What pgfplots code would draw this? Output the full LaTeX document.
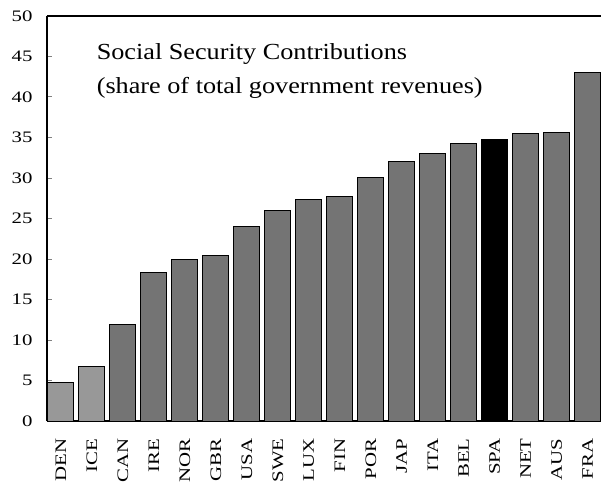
\documentclass[border=0pt]{standalone}
\usepackage{pgfplots}
\pgfplotsset{compat=1.18}
\usepackage{fontspec}
\setmainfont{Liberation Serif}
\newfontfamily\tickfont[FakeStretch=1.3]{Liberation Serif}
\newfontfamily\titlefont[FakeStretch=1.14]{Liberation Serif}
\definecolor{barg}{HTML}{747474}
\definecolor{barl}{HTML}{989898}
\begin{document}
\begin{tikzpicture}
\begin{axis}[
  scale only axis,
  width=554pt, height=405pt,
  xmin=-0.45, xmax=17.43,
  ymin=0, ymax=50,
  ytick={0,5,...,50},
  xtick={0,...,17},
  xticklabels={DEN,ICE,CAN,IRE,NOR,GBR,USA,SWE,LUX,FIN,POR,JAP,ITA,BEL,SPA,NET,AUS,FRA},
  x tick label style={rotate=90, anchor=east, xshift=-9pt, font=\tickfont\fontsize{16}{16}\selectfont},
  y tick label style={xshift=-11pt, font=\tickfont\fontsize{16}{16}\selectfont},
  /pgf/number format/assume math mode=true,
  axis x line*=box, axis y line*=left,
  axis line style={line width=1.2pt},
  major x tick style={draw=none},
  major y tick style={line width=1pt},
  major tick length=5pt,
  tick align=inside,
  ybar, bar width=26pt,
  clip=false,
]
\addplot[fill=barl, draw=black, line width=1pt, bar shift=0pt] coordinates {(0,4.8) (1,6.7)};
\addplot[fill=barg, draw=black, line width=1pt, bar shift=0pt] coordinates {
 (2,11.9) (3,18.3) (4,20.0) (5,20.4) (6,24.0) (7,26.0) (8,27.3) (9,27.7)
 (10,30.1) (11,32.0) (12,33.0) (13,34.2) (15,35.5) (16,35.6) (17,43.0)};
\addplot[fill=black, draw=black, line width=1pt, bar shift=0pt] coordinates {(14,34.7)};
\node[anchor=base west, font=\titlefont\fontsize{23}{23}\selectfont, inner sep=0pt]
  at (axis cs:1.15,44.57) {Social Security Contributions};
\node[anchor=base west, font=\titlefont\fontsize{23}{23}\selectfont, inner sep=0pt]
  at (axis cs:1.15,40.46) {(share of total government revenues)};
\end{axis}
\pgfresetboundingbox
\path[use as bounding box] ([xshift=-47pt,yshift=-61pt]current axis.south west) rectangle ([yshift=16pt]current axis.north east);
\end{tikzpicture}
\end{document}
